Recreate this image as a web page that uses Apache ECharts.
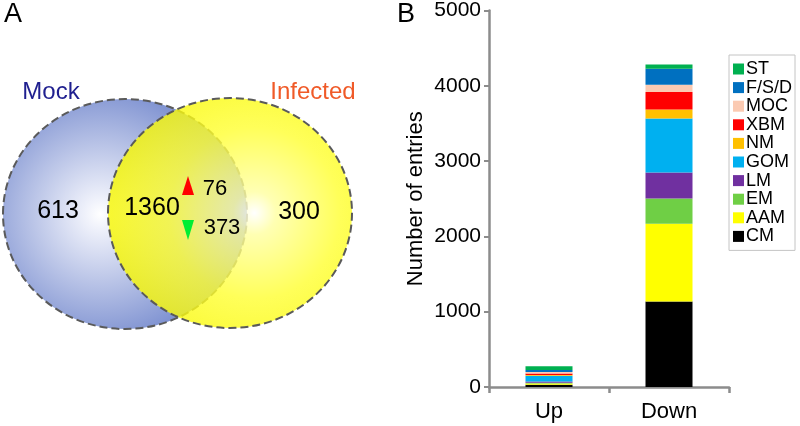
<!DOCTYPE html>
<html>
<head>
<meta charset="utf-8">
<script src="https://cdn.jsdelivr.net/npm/echarts@6/dist/echarts.min.js"></script>
<style>
html,body{margin:0;padding:0;background:#fff;}
#main{width:800px;height:426px;}
</style>
</head>
<body>
<div id="main"></div>
<script>
// ---- Panel A (Venn) data ----
const vennSets = ['Mock', 'Infected'];
const vennCounts = [613, 1360, 300];      // Mock only, shared, Infected only
const sharedChange = [76, 373];           // up, down within shared

// ---- Panel B (stacked bar) data ----
const categories = ['Up', 'Down'];
const classes = ['CM', 'AAM', 'EM', 'LM', 'GOM', 'NM', 'XBM', 'MOC', 'F/S/D', 'ST'];
const upValues   = [31, 14, 10, 18, 75, 12, 20, 20, 26, 48];
const downValues = [1135, 1033, 335, 347, 716, 119, 233, 97, 211, 58];
const yTicks = [0, 1000, 2000, 3000, 4000, 5000];

const classColors = ['#000000', '#ffff00', '#6fcf45', '#7030a0', '#00b0f0',
                     '#ffc000', '#ff0000', '#fbcab2', '#0070c0', '#00b050'];

const FONT = '"Liberation Sans", Arial, sans-serif';

const chart = echarts.init(document.getElementById('main'), null, {renderer: 'canvas'});

const series = classes.map((name, i) => ({
  name: name,
  type: 'bar',
  stack: 'total',
  barWidth: 47,
  itemStyle: {color: classColors[i]},
  data: [upValues[i], downValues[i]]
}));

const txt = (x, y, text, size, color) => ({
  type: 'text', x: x, y: y, z: 20,
  style: {text: String(text), fontSize: size, fontFamily: FONT, fill: color,
          align: 'center', verticalAlign: 'middle'}
});

const graphics = [
  // Mock circle
  {type: 'ellipse', z: 1,
   shape: {cx: 125, cy: 214, rx: 122, ry: 115},
   style: {fill: new echarts.graphic.RadialGradient(0.4, 0.5, 0.62, [
     {offset: 0, color: '#ffffff'}, {offset: 0.1, color: '#f0f2fb'}, {offset: 1, color: '#6e84cb'}]),
     stroke: '#5a5a5a', lineWidth: 2, lineDash: [8, 4]}},
  // Infected circle fill
  {type: 'ellipse', z: 2,
   shape: {cx: 230, cy: 213, rx: 122, ry: 115},
   style: {fill: new echarts.graphic.RadialGradient(0.6, 0.5, 0.62, [
     {offset: 0, color: '#ffffff'}, {offset: 0.15, color: '#ffffa0'}, {offset: 0.6, color: '#ffff30'}, {offset: 1, color: '#f8f800'}]),
     opacity: 0.8}},
  // Infected outline
  {type: 'ellipse', z: 3,
   shape: {cx: 230, cy: 213, rx: 122, ry: 115},
   style: {fill: 'none', stroke: '#5a5a5a', lineWidth: 2, lineDash: [8, 4]}},
  // arrows
  {type: 'polygon', z: 10, shape: {points: [[182, 195], [194, 195], [188, 176]]}, style: {fill: '#ff0000'}},
  {type: 'polygon', z: 10, shape: {points: [[182, 220], [194, 220], [188, 240]]}, style: {fill: '#00ee33'}},
  txt(51, 92, vennSets[0], 24, '#1f1f8f'),
  txt(313, 92, vennSets[1], 24, '#f05a28'),
  txt(58, 211, vennCounts[0], 25, '#000'),
  txt(152, 208, vennCounts[1], 25, '#000'),
  txt(299, 212, vennCounts[2], 25, '#000'),
  txt(215, 189, sharedChange[0], 22, '#000'),
  txt(222, 228, sharedChange[1], 22, '#000'),
  // panel letters
  txt(13, 15, 'A', 27, '#000'),
  txt(406, 15, 'B', 27, '#000')
];

chart.setOption({
  animation: false,
  backgroundColor: '#fff',
  textStyle: {fontFamily: FONT},
  grid: {left: 489, right: 71, top: 10, bottom: 39, containLabel: false},
  legend: {
    orient: 'vertical', left: 729, top: 55,
    data: classes.slice().reverse(),
    itemWidth: 11, itemHeight: 11, itemGap: 0.6,
    padding: [5, 3, 5, 4],
    borderColor: '#c4c4c4', borderWidth: 1,
    icon: 'rect',
    textStyle: {fontSize: 18, color: '#000', fontFamily: FONT, lineHeight: 18, padding: [0, 0, 0, -3]}
  },
  xAxis: {
    type: 'category', data: categories,
    axisLine: {lineStyle: {color: '#8c8c8c', width: 2.5}},
    axisTick: {show: true, length: 6, lineStyle: {color: '#8c8c8c', width: 2.5}},
    axisLabel: {fontSize: 22, color: '#000', margin: 14, fontFamily: FONT}
  },
  yAxis: {
    type: 'value', min: 0, max: 5000, interval: 1000,
    name: 'Number of entries', nameLocation: 'middle', nameRotate: 90, nameGap: 62,
    nameTextStyle: {fontSize: 22, color: '#000', fontFamily: FONT},
    axisLine: {show: true, lineStyle: {color: '#8c8c8c', width: 2.5}},
    axisTick: {show: true, length: 5, lineStyle: {color: '#8c8c8c', width: 2}},
    splitLine: {show: false},
    axisLabel: {fontSize: 21, color: '#000', margin: 8, fontFamily: FONT,
                formatter: v => yTicks.includes(v) ? String(v) : ''}
  },
  series: series,
  graphic: graphics
});
</script>
</body>
</html>
